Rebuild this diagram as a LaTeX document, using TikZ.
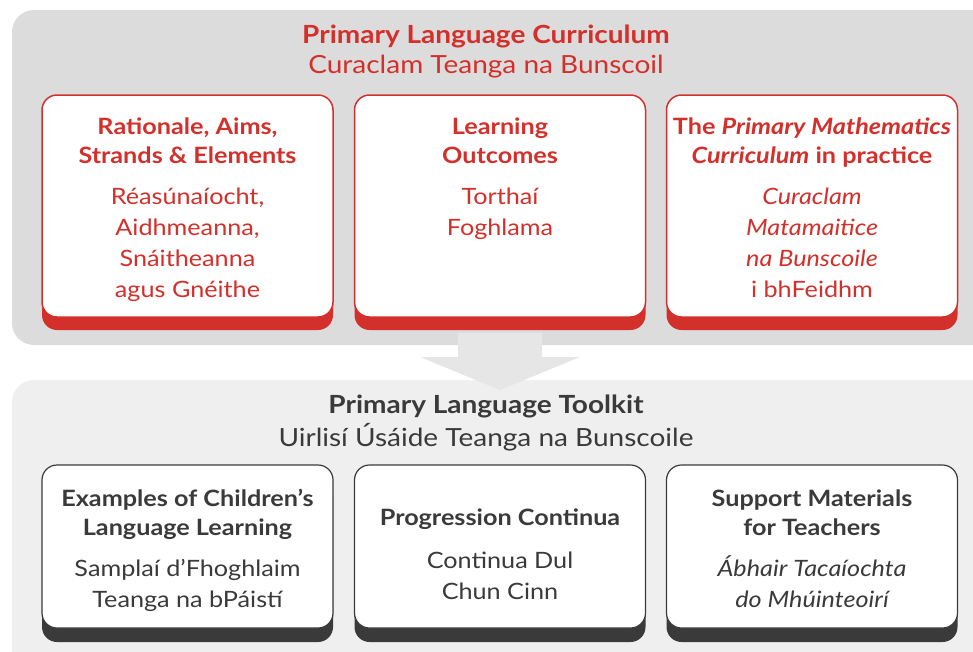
\documentclass[tikz,border=0pt]{standalone}
\usepackage{fontspec}
\setmainfont{Lato}[FakeStretch=1.12]
\usetikzlibrary{positioning}
\definecolor{plcred}{HTML}{D3302B}
\definecolor{plcdark}{HTML}{3A3A3A}
\definecolor{panelgray}{HTML}{DCDCDC}
\definecolor{panellight}{HTML}{EFEFEF}
\definecolor{arrowgray}{HTML}{E6E6E6}
\tikzset{
  title/.style={font=\bfseries\fontsize{25}{30}\selectfont, anchor=base, inner sep=0},
  subtitle/.style={font=\fontsize{25}{30}\selectfont, anchor=base, inner sep=0},
  head/.style={font=\bfseries\fontsize{22.5}{29}\selectfont, align=center, anchor=base, inner sep=0},
  irish/.style={font=\fontsize{22.5}{30.7}\selectfont, align=center, anchor=base, inner sep=0},
  topbox/.style={draw=plcred, line width=1.5pt, fill=white, rounded corners=15,
    minimum width=291, minimum height=222, inner sep=0,
    preaction={fill=plcred, transform canvas={yshift=-13pt}}},
  toolbox/.style={draw=plcdark, line width=1.2pt, fill=white, rounded corners=15,
    minimum width=291, minimum height=163, inner sep=0,
    preaction={fill=plcdark, transform canvas={yshift=-14pt}}},
}

\begin{document}
\begin{tikzpicture}[x=1pt,y=-1pt]
\useasboundingbox (0,0) rectangle (973,651);
\clip (0,0) rectangle (973,651);
% panels
\fill[panelgray, rounded corners=22] (12,10) rectangle (995,345);
\fill[panellight, rounded corners=22] (12,380) rectangle (995,680);
\fill[arrowgray] (458,333) -- (542,333) -- (542,357) -- (580,357) -- (500,390)
  -- (420,357) -- (458,357) -- cycle;
% curriculum
\node[title, text=plcred] (plc) at (486,43) {Primary Language Curriculum};
\node[subtitle, text=plcred] (plcGa) at (486,73) {Curaclam Teanga na Bunscoil};
\foreach \name/\x in {rat/187.5, lo/500, prac/812}
  \node[topbox] (\name) at (\x,206) {};
\node[head, text=plcred] (ratHead) at (187.5,163) {Rationale, Aims,\\Strands \& Elements};
\node[irish, text=plcred] (ratGa) at (187.5,297) {Réasúnaíocht,\\Aidhmeanna,\\Snáitheanna\\agus Gnéithe};
\node[head, text=plcred] (loHead) at (500,163) {Learning\\Outcomes};
\node[irish, text=plcred] (loGa) at (500,235) {Torthaí\\Foghlama};
\node[head, text=plcred] (pracHead) at (812,163) {The \textit{Primary Mathematics}\\\textit{Curriculum} in practice};
\node[irish, text=plcred, font=\itshape\fontsize{22.5}{30.7}\selectfont] (pracGa) at (812,297) {Curaclam\\Matamaitice\\na Bunscoile\\\upshape i bhFeidhm};
% toolkit
\node[title, text=plcdark] (plt) at (486,413) {Primary Language Toolkit};
\node[subtitle, text=plcdark] (pltGa) at (486,446) {Uirlisí Úsáide Teanga na Bunscoile};
\foreach \name/\x in {ex/187.5, pc/500, sup/812}
  \node[toolbox] (\name) at (\x,546.5) {};
\node[head, text=plcdark] (exHead) at (187.5,535) {Examples of Children’s\\Language Learning};
\node[irish, text=plcdark] (exGa) at (187.5,607) {Samplaí d’Fhoghlaim\\Teanga na bPáistí};
\node[head, text=plcdark] (pcHead) at (500,525) {Progression Continua};
\node[irish, text=plcdark] (pcGa) at (500,599) {Continua Dul\\Chun Cinn};
\node[head, text=plcdark] (supHead) at (812,535) {Support Materials\\for Teachers};
\node[irish, text=plcdark, font=\itshape\fontsize{22.5}{30.7}\selectfont] (supGa) at (812,607) {Ábhair Tacaíochta\\do Mhúinteoirí};
\end{tikzpicture}
\end{document}
